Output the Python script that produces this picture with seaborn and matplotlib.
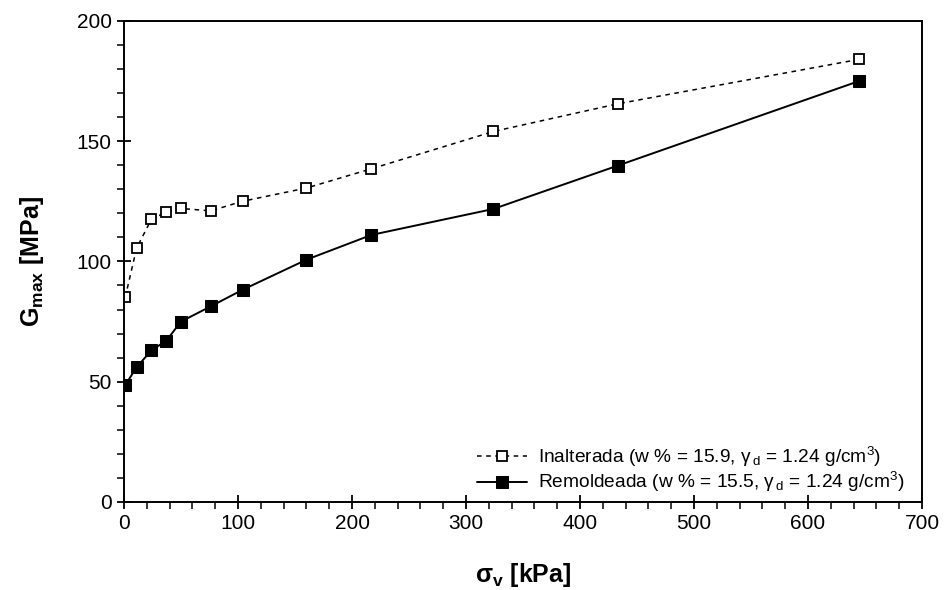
import matplotlib
matplotlib.use('Agg')
import matplotlib.pyplot as plt
from matplotlib.ticker import MultipleLocator
import seaborn as sns

sigma_v = [1, 11, 24, 37, 50, 76, 104, 160, 217, 324, 433, 645]
g_inalterada = [85, 105.5, 117.5, 120.5, 122, 121, 125, 130.5, 138.5, 154, 165.5, 184]
g_remoldeada = [48.5, 56, 63, 67, 75, 81.3, 88.2, 100.7, 111, 121.8, 139.8, 175]

label_inalt = r'Inalterada (w % = 15.9, $\mathrm{\gamma}_{\,\mathrm{d}}$ = 1.24 g/cm$^3$)'
label_remol = r'Remoldeada (w % = 15.5, $\mathrm{\gamma}_{\,\mathrm{d}}$ = 1.24 g/cm$^3$)'

sns.set_theme(style='ticks')
plt.rcParams['font.family'] = ['Liberation Sans', 'DejaVu Sans']
plt.rcParams['mathtext.fontset'] = 'custom'
plt.rcParams['mathtext.rm'] = 'Liberation Sans'
plt.rcParams['mathtext.it'] = 'Liberation Sans:italic'
plt.rcParams['mathtext.bf'] = 'Liberation Sans:bold'
plt.rcParams['text.color'] = 'black'
plt.rcParams['axes.labelcolor'] = 'black'

fig = plt.figure(figsize=(9.44, 5.9), dpi=100)
ax = fig.add_axes([0.1314, 0.1492, 0.8453, 0.8155])

sns.lineplot(x=sigma_v, y=g_inalterada, ax=ax, color='black', lw=1.1,
             linestyle=(0, (3, 3)), marker='s', markersize=7,
             markerfacecolor='white', markeredgecolor='black', markeredgewidth=1.3,
             label=label_inalt)
sns.lineplot(x=sigma_v, y=g_remoldeada, ax=ax, color='black', lw=1.4,
             marker='s', markersize=8, markerfacecolor='black',
             markeredgecolor='black', label=label_remol)

ax.set_xlim(0, 700)
ax.set_ylim(0, 200)
ax.xaxis.set_major_locator(MultipleLocator(100))
ax.xaxis.set_minor_locator(MultipleLocator(20))
ax.yaxis.set_major_locator(MultipleLocator(50))
ax.yaxis.set_minor_locator(MultipleLocator(10))
ax.tick_params(which='major', direction='inout', length=10, width=1.3,
               labelsize=15, colors='black', pad=4)
ax.tick_params(which='minor', direction='out', length=5, width=1.1, colors='black')
for s in ax.spines.values():
    s.set_linewidth(1.4)
    s.set_color('black')

ax.set_xlabel(r'$\mathbf{\sigma_v}$ [kPa]', fontsize=18, fontweight='bold', labelpad=20)
ax.set_ylabel(r'$\mathbf{G_{max}}$ [MPa]', fontsize=18, fontweight='bold', labelpad=22)

leg = ax.legend(loc='lower right', bbox_to_anchor=(1.0, -0.02), frameon=False,
                fontsize=13.8, handlelength=2.6, handletextpad=0.6, labelspacing=0.08)
for t in leg.get_texts():
    t.set_color('black')

fig.savefig('out.png', dpi=100)
